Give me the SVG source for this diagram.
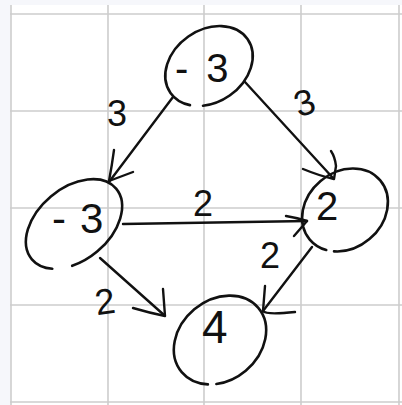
<svg xmlns="http://www.w3.org/2000/svg" width="402" height="405" viewBox="0 0 402 405">
<style>
.grid{stroke:#cdcdcd;stroke-width:1.6;fill:none}
.node{fill:none;stroke:#111;stroke-width:2.6;stroke-linecap:round}
.edge{fill:none;stroke:#111;stroke-width:2.4;stroke-linecap:round;stroke-linejoin:round}
.nl{font-family:"Liberation Sans",Arial,sans-serif;fill:#111}
.el{font-family:"Liberation Sans",Arial,sans-serif;fill:#111;font-size:36px;text-anchor:middle}
</style>
<rect width="402" height="405" fill="#f6f7fb"/>
<rect x="10" y="5" width="392" height="400" fill="#ffffff"/>
<g id="grid">
<path class="grid" d="M11,5V405M108,5V405M204,5V405M301,5V405M399,5V405"/>
<path class="grid" d="M10,14H402M10,111H402M10,208H402M10,305H402M10,402H402"/>
</g>
<g id="connectors">
<g id="e-top-left"><path class="edge" d="M173,97L109,182"/><path class="edge" d="M114,150Q112,165 109,181L133,172"/><text class="el" x="117" y="126" font-size="38">3</text></g>
<g id="e-top-right"><path class="edge" d="M245,82L333,178"/><path class="edge" d="M303,169Q320,176 334,179L336,166Q335,157 331,151"/><text class="el" x="304" y="115" font-size="40" transform="rotate(-18 304 101)">3</text></g>
<g id="e-left-right"><path class="edge" d="M123,224L307,221"/><path class="edge" d="M286,216Q298,218 307,221L294,236"/><text class="el" x="203" y="216">2</text></g>
<g id="e-left-bottom"><path class="edge" d="M100,258L164,315"/><path class="edge" d="M133,308Q150,313 165,316L163,289"/><text class="el" x="105" y="314" transform="rotate(-8 105 302)">2</text></g>
<g id="e-right-bottom"><path class="edge" d="M312,247L263,311"/><path class="edge" d="M265,286L263,311Q266,315 295,312"/><text class="el" x="270" y="268">2</text></g>
</g>
<g id="n-top"><ellipse class="node" cx="209" cy="66" rx="47" ry="36" transform="rotate(-35 209 66)" pathLength="100" stroke-dasharray="36 5 59"/><text class="nl" x="175" y="82" font-size="40">-<tspan dx="18">3</tspan></text></g>
<g id="n-left"><ellipse class="node" cx="74" cy="224" rx="55" ry="36" transform="rotate(-40 74 224)" pathLength="100" stroke-dasharray="35 7 58"/><text class="nl" x="52" y="233" font-size="42">-<tspan dx="14">3</tspan></text></g>
<g id="n-right"><ellipse class="node" cx="345" cy="210" rx="46" ry="38" transform="rotate(-40 345 210)" pathLength="100" stroke-dasharray="39.5 3 57.5"/><text class="nl" x="316" y="220" font-size="40">2</text></g>
<g id="n-bottom"><ellipse class="node" cx="220" cy="340" rx="50" ry="40" transform="rotate(-40 220 340)" pathLength="100" stroke-dasharray="36.5 3 60.5"/><text class="nl" x="202" y="343" font-size="46">4</text></g>
</svg>
